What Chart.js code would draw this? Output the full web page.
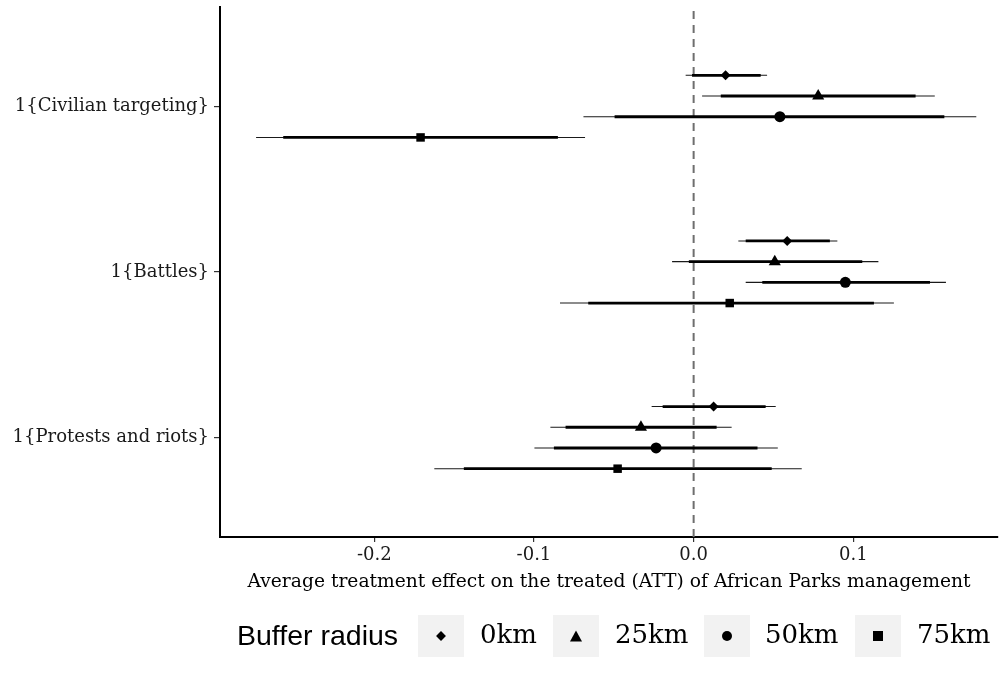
<!DOCTYPE html>
<html>
<head>
<meta charset="utf-8">
<script src="https://cdn.jsdelivr.net/npm/chart.js@4.4.1/dist/chart.umd.min.js"></script>
<style>
  body { margin: 0; background: #fff; }
  #wrap { position: relative; width: 1005px; height: 683px; }
  #legend { position: absolute; left: 0; top: 0; width: 1005px; height: 683px; pointer-events: none; }
  .lg-title { position: absolute; font-family: "Liberation Sans", Arial, sans-serif; font-size: 28.5px; color: #000; }
  .lg-key { position: absolute; width: 46px; height: 42px; background: #f2f2f2; }
  .lg-lab { position: absolute; font-family: "DejaVu Serif", serif; font-size: 26px; color: #000; }
  .mk { position: absolute; left: 50%; top: 50%; transform: translate(-50%, -50%); }
</style>
</head>
<body>
<div id="wrap">
  <canvas id="coefPlot" width="1005" height="683"></canvas>
  <div id="legend"></div>
</div>
<script>
// outcomes, bottom to top on the y axis
const outcomes = ['1{Protests and riots}', '1{Battles}', '1{Civilian targeting}'];
const buffers = ['0km', '25km', '50km', '75km'];
const markers = ['rectRot', 'triangle', 'circle', 'rect'];
const markerSize = [5, 7, 5.5, 6];
const dodge = [0.1875, 0.0625, -0.0625, -0.1875];

// estimates per buffer, in the order of outcomes
const att = {
  '0km':  [0.0125, 0.0586, 0.020],
  '25km': [-0.033, 0.0508, 0.078],
  '50km': [-0.0235, 0.095, 0.054],
  '75km': [-0.0476, 0.0226, -0.171]
};
// 95% interval (thin)
const lo95 = {
  '0km':  [-0.0263, 0.028, -0.005],
  '25km': [-0.0897, -0.0135, 0.0053],
  '50km': [-0.0997, 0.0326, -0.069],
  '75km': [-0.1624, -0.0837, -0.274]
};
const hi95 = {
  '0km':  [0.0514, 0.090, 0.046],
  '25km': [0.0238, 0.1157, 0.151],
  '50km': [0.0527, 0.158, 0.177],
  '75km': [0.0677, 0.1254, -0.068]
};
// 90% interval (thick)
const lo90 = {
  '0km':  [-0.0194, 0.0326, -0.001],
  '25km': [-0.0802, -0.003, 0.017],
  '50km': [-0.0875, 0.043, -0.0495],
  '75km': [-0.1439, -0.066, -0.257]
};
const hi90 = {
  '0km':  [0.0451, 0.0853, 0.042],
  '25km': [0.0144, 0.1056, 0.139],
  '50km': [0.040, 0.148, 0.157],
  '75km': [0.0489, 0.1129, -0.085]
};
const xTicks = [-0.2, -0.1, 0.0, 0.1];

function segments(lo, hi, b) {
  const pts = [];
  outcomes.forEach((o, i) => {
    const y = i + 1 + dodge[b];
    pts.push({x: lo[i], y: y}, {x: hi[i], y: y}, {x: null, y: null});
  });
  return pts;
}

const datasets = [];
datasets.push({
  type: 'line', label: 'zero',
  data: [{x: 0, y: 0.4}, {x: 0, y: 3.6}],
  borderColor: '#6e6e6e', borderWidth: 2, borderDash: [8, 6],
  pointRadius: 0, order: 5
});
buffers.forEach((b, k) => {
  datasets.push({
    type: 'line', label: b + ' 95',
    data: segments(lo95[b], hi95[b], k),
    borderColor: '#1a1a1a', borderWidth: 1.1,
    pointRadius: 0, spanGaps: false, order: 4
  });
  datasets.push({
    type: 'line', label: b + ' 90',
    data: segments(lo90[b], hi90[b], k),
    borderColor: '#000', borderWidth: 2.8,
    pointRadius: 0, spanGaps: false, order: 3
  });
  datasets.push({
    type: 'scatter', label: b,
    data: outcomes.map((o, i) => ({x: att[b][i], y: i + 1 + dodge[k]})),
    pointStyle: markers[k], pointRadius: markerSize[k],
    backgroundColor: '#000', borderColor: '#000', borderWidth: 0,
    order: 1
  });
});

const serif = {family: '"DejaVu Serif", serif', size: 18};

new Chart(document.getElementById('coefPlot'), {
  type: 'scatter',
  data: {datasets: datasets},
  options: {
    responsive: false,
    animation: false,
    layout: {padding: {top: 7, right: 0, left: 0, bottom: 0}},
    plugins: {legend: {display: false}, tooltip: {enabled: false}},
    scales: {
      x: {
        type: 'linear', min: -0.2966, max: 0.1906,
        afterBuildTicks: s => { s.ticks = xTicks.map(v => ({value: v})); },
        afterFit: s => { s.height = 146; s.paddingLeft = 0; s.paddingRight = 0; },
        ticks: {color: '#1a1a1a', font: serif, padding: 3, callback: v => v.toFixed(1)},
        grid: {drawOnChartArea: false, drawTicks: true, tickLength: 5, color: '#333', lineWidth: 1.2},
        border: {display: true, color: '#000', width: 2},
        title: {display: true, text: 'Average treatment effect on the treated (ATT) of African Parks management',
                color: '#000', font: {family: '"DejaVu Serif", serif', size: 18.7}, padding: {top: 4, bottom: 90}}
      },
      y: {
        type: 'linear', min: 0.4, max: 3.6,
        afterBuildTicks: s => { s.ticks = outcomes.map((o, i) => ({value: i + 1})); },
        afterFit: s => { s.width = 220; s.paddingTop = 0; s.paddingBottom = 0; },
        ticks: {color: '#1a1a1a', font: serif, padding: 5, callback: v => outcomes[v - 1]},
        grid: {drawOnChartArea: false, drawTicks: true, tickLength: 6, color: '#333', lineWidth: 1.2},
        border: {display: true, color: '#000', width: 2}
      }
    }
  }
});

// legend, drawn in HTML below the plot
const legend = document.getElementById('legend');
const lgTop = 615;
const keyLeft = [418, 553, 704, 855];
const labLeft = [480, 615, 765, 917];
const shapes = [
  '<div class="mk" style="width:7px;height:7px;background:#000;transform:translate(-50%,-50%) rotate(45deg)"></div>',
  '<div class="mk" style="width:0;height:0;border-left:6px solid transparent;border-right:6px solid transparent;border-bottom:11px solid #000"></div>',
  '<div class="mk" style="width:10px;height:10px;border-radius:50%;background:#000"></div>',
  '<div class="mk" style="width:10px;height:10px;background:#000"></div>'
];
let html = '<div class="lg-title" style="left:237px;top:' + (lgTop + 4) + 'px">Buffer radius</div>';
buffers.forEach((b, k) => {
  html += '<div class="lg-key" style="left:' + keyLeft[k] + 'px;top:' + lgTop + 'px">' + shapes[k] + '</div>';
  html += '<div class="lg-lab" style="left:' + labLeft[k] + 'px;top:' + (lgTop + 4) + 'px">' + b + '</div>';
});
legend.innerHTML = html;
</script>
</body>
</html>
